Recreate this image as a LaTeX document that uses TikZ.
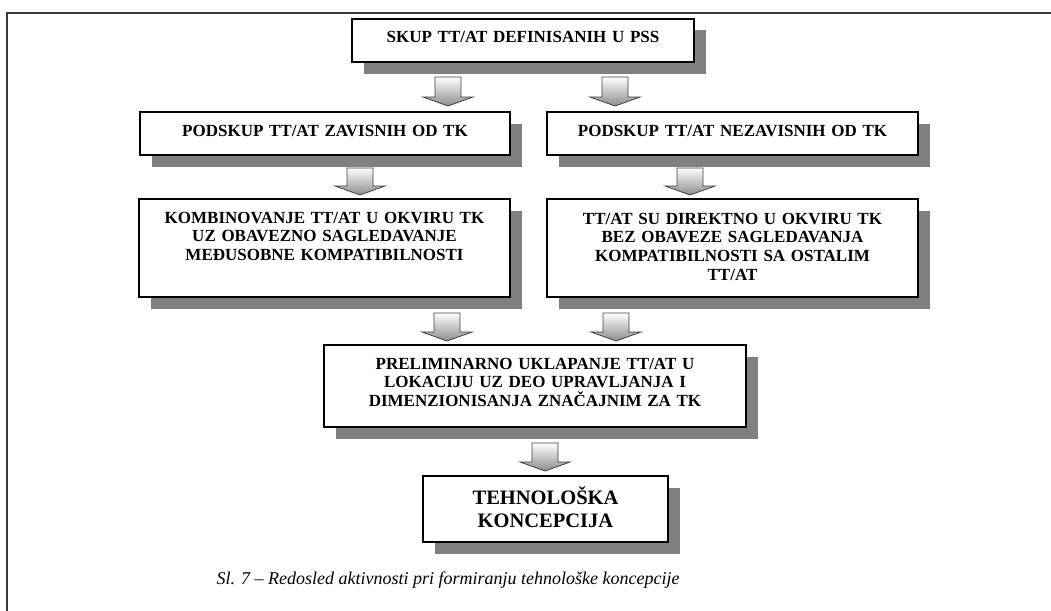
\documentclass[tikz,border=0pt]{standalone}
\usepackage{fontspec}
\setmainfont{Liberation Serif}
\usetikzlibrary{calc,shadows}
\definecolor{shadowgray}{HTML}{808080}
\definecolor{framegray}{HTML}{3C3C3C}
\tikzset{
  box/.style={draw=black, line width=1.3pt, fill=white, inner sep=0pt, outer sep=0pt,
    align=center, anchor=north west, font=\bfseries\fontsize{17}{18.7}\selectfont,
    drop shadow={shadow xshift=11.5pt, shadow yshift=-11.5pt, fill=shadowgray, opacity=1}},
  bigbox/.style={box, font=\bfseries\fontsize{20.5}{23}\selectfont},
  blockarr/.style={draw=black!75, line width=0.8pt, top color=white, bottom color=black!45},
  frameline/.style={draw=framegray, line width=2pt},
  captext/.style={anchor=base, font=\itshape\fontsize{18}{20}\selectfont}
}
\newcommand\blockarrow[2]{%
  \path[blockarr] let \p1=(#1), \p2=(#2) in
    (\x1-13pt,\y1) -- (\x1+13pt,\y1) -- (\x1+13pt,\y2+9pt) -- (\x1+25pt,\y2+9pt)
    -- (\x2,\y2) -- (\x1-25pt,\y2+9pt) -- (\x1-13pt,\y2+9pt) -- cycle;}
\begin{document}
\begin{tikzpicture}[x=1pt,y=-1pt]
\useasboundingbox (0,0) rectangle (1051,610);
% frame
\coordinate (fbl) at (7,611);
\coordinate (ftl) at (7,13);
\coordinate (ftr) at (1052,13);
\draw[frameline] (fbl) -- (ftl) -- (ftr);
% boxes
\node[box, text width=342pt, text height=24pt, text depth=19pt] (b1) at (352,19) {SKUP TT/AT DEFINISANIH U PSS};
\node[box, text width=370pt, text height=24pt, text depth=19pt] (b2) at (140,112) {PODSKUP TT/AT ZAVISNIH OD TK};
\node[box, text width=371pt, text height=24pt, text depth=19pt] (b3) at (547,112) {PODSKUP TT/AT NEZAVISNIH OD TK};
\node[box, text width=371pt, text height=24pt, text depth=74pt] (b4) at (139,199) {KOMBINOVANJE TT/AT U OKVIRU TK\\UZ OBAVEZNO SAGLEDAVANJE\\MEĐUSOBNE KOMPATIBILNOSTI};
\node[box, text width=371pt, text height=25pt, text depth=73pt] (b5) at (547,199) {TT/AT SU DIREKTNO U OKVIRU TK\\BEZ OBAVEZE SAGLEDAVANJA\\KOMPATIBILNOSTI SA OSTALIM\\TT/AT};
\node[box, text width=422pt, text height=24pt, text depth=58pt] (b6) at (324,345) {PRELIMINARNO UKLAPANJE TT/AT U\\LOKACIJU UZ DEO UPRAVLJANJA I\\DIMENZIONISANJA ZNAČAJNIM ZA TK};
\node[bigbox, text width=245pt, text height=28pt, text depth=38pt] (b7) at (423,476) {TEHNOLOŠKA\\KONCEPCIJA};
% arrows
\coordinate (a1s) at (448,77);  \coordinate (a1e) at (448,106);
\coordinate (a2s) at (615,77);  \coordinate (a2e) at (615,106);
\coordinate (a3s) at (360,168); \coordinate (a3e) at (360,195);
\coordinate (a4s) at (690,168); \coordinate (a4e) at (690,195);
\coordinate (a5s) at (447,313); \coordinate (a5e) at (447,341);
\coordinate (a6s) at (616,313); \coordinate (a6e) at (616,341);
\coordinate (a7s) at (545,443); \coordinate (a7e) at (545,471);
\blockarrow{a1s}{a1e}
\blockarrow{a2s}{a2e}
\blockarrow{a3s}{a3e}
\blockarrow{a4s}{a4e}
\blockarrow{a5s}{a5e}
\blockarrow{a6s}{a6e}
\blockarrow{a7s}{a7e}
% caption
\node[captext] (cap) at (448,584) {Sl. 7 – Redosled aktivnosti pri formiranju tehnološke koncepcije};
\end{tikzpicture}
\end{document}
